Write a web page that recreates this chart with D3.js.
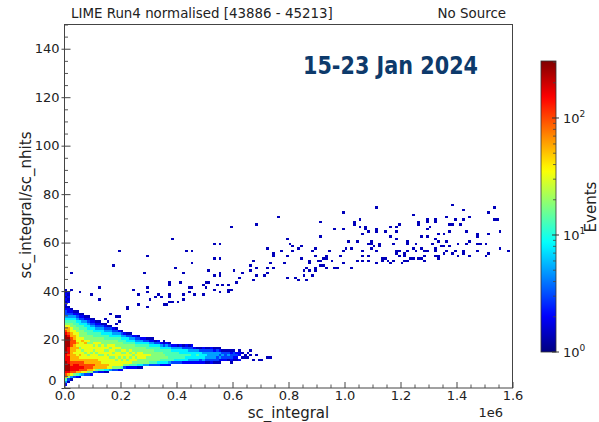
<!DOCTYPE html>
<html><head><meta charset="utf-8">
<script src="https://cdn.jsdelivr.net/npm/d3@7"></script>
<style>
body{margin:0;background:#fff;}
svg{display:block;}
text{font-family:"DejaVu Sans",sans-serif;fill:#222;}
</style>
</head><body>
<svg id="chart" width="599" height="422"></svg>
<script>
// ---------------- data ----------------
const titleLeft = "LIME Run4 normalised [43886 - 45213]";
const titleRight = "No Source";
const dateLabel = "15-23 Jan 2024";
const xLabel = "sc_integral";
const yLabel = "sc_integral/sc_nhits";
const zLabel = "Events";
const xTicks = [0, 0.2, 0.4, 0.6, 0.8, 1.0, 1.2, 1.4, 1.6];   // ×1e6
const yTicks = [0, 20, 40, 60, 80, 100, 120, 140];
const cbTicks = [1, 10, 100];
const cbMax = 307;
const binWidthX = 0.01;   // ×1e6
const binWidthY = 1;
// level code -> bin content (events)
const levelCodes = ".123456789abc";
const levelCounts = [0, 1.4, 2, 3, 5, 8, 13, 18, 32, 55, 100, 160, 250];
// dense core: one entry per x bin (x = index*binWidthX): [first y bin, level codes going up]
const densityCols = [
  [1, "2469abccccbbbccccccccba98765433212121211"],
  [2, "1379bcccbbbabbbccccba99876543221.21212"],
  [3, "148abbaa999999aaaa998877654321"],
  [4, "37abbba9998999aa998877665421"],
  [4, "269bbba998889898888776654321"],
  [4, "159abaa98988788887776655321"],
  [5, "48abaa98887888987776654321"],
  [5, "38aaa99887888987776655421"],
  [5, "379aa99878888787766554321"],
  [5, "279aa9988788877776654321"],
  [6, "389a9988878787766554321"],
  [6, "3799998878888776654321"],
  [6, "2699988788878776654321"],
  [6, "269988878888777655431"],
  [6, "159988888787776654321"],
  [6, "15898887878877665431"],
  [7, "4888878887877655431"],
  [7, "378887878887765432"],
  [7, "378878887877765431"],
  [7, "27888788787766542"],
  [7, "26887887877765431"],
  [8, "378878787766542"],
  [8, "278788877765531"],
  [8, "268878787765431"],
  [8, "26788787776542"],
  [8, "26787877765432"],
  [8, "15778887765431"],
  [8, "1577888776542"],
  [9, "477887776532"],
  [9, "477787766531"],
  [9, "36778776542"],
  [9, "36777776542"],
  [9, "36777766531"],
  [9, "35777766532"],
  [9, "2567776542"],
  [9, "2567766531"],
  [9, "2567666542"],
  [9, "2466666531"],
  [10, "36666542"],
  [10, "35666542"],
  [10, "35666541"],
  [10, "35665542"],
  [10, "25665531"],
  [10, "25565532"],
  [10, "24565431"],
  [10, "24555432"],
  [10, "2455542"],
  [10, "2456541"],
  [10, "2355531"],
  [10, "2455432"],
  [10, "1345431"],
  [10, "1344431"],
  [10, "2344432"],
  [10, "1344421"],
  [10, "1334431"],
  [10, "1243421"],
  [11, "23431"],
  [11, "23331"],
  [11, "13431"],
  [11, "23321"],
  [11, "12331"],
  [11, "1232."],
  [11, "2.221"]
];
// isolated single-entry bins: [sc_integral (×1e6), sc_integral/sc_nhits]
const sparsePoints = [
  [0.764,70.7],[0.599,66.5],[0.684,67.1],[0.385,61.6],[0.199,56.1],[0.178,50.4],[0.294,54.4],[0.539,59.9],[0.556,59.9],
  [0.790,61.4],[0.809,59.9],[0.773,56.1],[0.817,58.1],[0.817,56.5],[0.838,57.6],[0.722,57.0],[0.743,55.4],[0.749,54.0],
  [0.797,54.0],[0.433,56.1],[0.457,56.5],[0.455,51.5],[0.396,49.7],[0.428,47.6],[0.283,47.1],[0.551,53.6],[0.530,53.2],
  [0.679,52.6],[0.666,50.8],[0.735,51.2],[0.742,49.9],[0.727,49.0],[0.780,51.5],[0.680,49.2],[0.681,46.6],[0.660,48.5],
  [0.630,47.8],[0.609,48.5],[0.611,43.7],[0.627,45.5],[0.673,44.1],[0.716,46.4],[0.728,47.0],[0.799,45.7],[0.832,44.9],
  [0.821,45.7],[0.539,46.0],[0.552,47.8],[0.552,46.3],[0.516,48.5],[0.509,43.7],[0.515,43.3],[0.503,41.3],[0.491,42.1],
  [0.534,40.6],[0.549,42.0],[0.561,42.0],[0.583,42.0],[0.583,40.6],[0.599,40.2],[0.555,39.1],[0.580,39.0],[0.370,43.7],
  [0.376,42.7],[0.417,43.1],[0.449,41.7],[0.456,41.4],[0.491,38.6],[0.464,38.1],[0.443,39.8],[0.427,38.1],[0.374,38.8],
  [0.374,37.7],[0.336,38.3],[0.341,37.1],[0.320,37.5],[0.308,36.8],[0.299,41.6],[0.294,39.8],[0.268,38.1],[0.247,40.4],
  [0.126,41.6],[0.096,38.6],[0.051,39.0],[0.022,47.0],[0.023,40.9],
  [1.387,75.1],[1.115,74.5],[1.538,74.0],[1.426,73.1],[0.992,72.0],[1.249,71.2],[1.517,72.0],[1.361,70.4],[1.324,69.8],
  [1.329,68.5],[1.449,70.4],[1.421,69.0],[1.413,67.9],[1.390,69.0],[1.373,67.5],[1.384,67.5],[1.538,69.5],[1.545,69.3],
  [1.263,68.5],[1.263,67.6],[1.058,69.8],[1.030,68.5],[1.035,67.1],[0.918,68.1],[1.051,66.5],[1.071,66.5],[1.079,65.7],
  [1.116,65.9],[1.115,64.0],[1.089,64.9],[1.065,63.9],[0.960,65.4],[0.992,65.4],[1.192,67.1],[1.184,66.1],[1.169,66.2],
  [1.185,64.3],[1.169,62.4],[1.149,64.3],[1.291,69.5],[1.295,68.5],[1.291,65.7],[1.307,66.0],[1.372,64.6],[1.353,63.1],
  [1.338,63.8],[1.366,60.7],[1.278,62.9],[1.291,62.9],[1.479,63.9],[1.472,62.9],[1.515,63.5],[1.553,64.2],[1.439,64.3],
  [1.447,60.7],[1.433,59.9],[1.406,59.5],[1.476,59.1],[1.508,59.1],[1.481,59.1],[1.553,57.4],[1.585,56.1],[1.472,56.1],
  [1.516,55.9],[1.503,54.4],[1.440,54.5],[1.422,56.3],[1.420,55.9],[1.390,56.6],[1.385,55.9],[1.408,54.5],[1.373,58.8],
  [1.347,58.8],[1.339,60.4],[1.326,61.2],[1.319,59.4],[1.320,57.7],[1.324,56.2],[1.331,54.4],[1.320,54.0],[1.334,53.0],
  [1.356,55.1],[1.366,56.7],[1.354,58.7],[1.295,56.6],[1.286,56.3],[1.271,57.0],[1.284,54.2],[1.286,52.6],[1.274,53.0],
  [1.260,53.0],[1.259,59.9],[1.227,60.2],[1.258,56.1],[1.249,53.6],[1.234,53.6],[1.242,57.4],[1.221,59.1],[1.226,60.4],
  [1.213,52.5],[1.224,52.1],[1.206,51.9],[1.213,54.9],[1.222,56.8],[1.213,55.4],[1.198,56.0],[1.196,54.7],[1.189,55.1],
  [1.186,56.7],[1.179,59.4],[1.187,61.2],[1.176,52.5],[1.165,51.8],[1.155,52.5],[1.149,53.2],[1.134,52.0],[1.138,53.0],
  [1.129,59.5],[1.126,58.8],[1.108,58.8],[1.116,56.9],[1.092,60.7],[1.098,59.1],[1.091,57.0],[1.084,59.5],[1.115,51.2],
  [1.089,54.2],[1.081,52.1],[1.061,52.2],[1.044,52.2],[1.029,49.6],[1.063,54.2],[1.064,56.3],[1.041,60.5],[1.014,60.5],
  [1.001,57.0],[1.022,57.0],[0.991,56.3],[0.984,54.4],[0.994,51.5],[0.978,49.2],[0.964,49.2],[0.958,52.6],[0.947,56.1],
  [0.932,54.2],[0.938,53.5],[0.924,53.0],[0.916,52.2],[0.911,50.7],[0.923,50.6],[0.920,50.2],[0.931,49.6],[0.915,62.4],
  [0.917,62.0],[0.898,57.0],[0.888,56.3],[0.890,54.2],[0.901,52.6],[0.879,52.9],[0.874,51.8],[0.865,49.0],[0.858,48.5],
  [0.878,48.3],[0.896,49.0],[0.898,48.1],[0.889,46.8],[0.853,46.0],[0.865,44.9],[0.849,53.6],[0.845,58.0],
  [0.220,33.9],[0.222,32.5],[0.260,34.3],[0.290,33.9],[0.353,34.3],[0.367,34.7],[0.379,35.0],[0.389,35.0],[0.401,35.2],
  [0.424,36.0],[0.163,30.9],[0.180,29.2],[0.198,29.8],[0.193,27.0],[0.180,26.0],[0.127,36.6],
  [0.236,22.3],[0.262,21.5],[0.300,20.5],[0.318,20.9],[0.350,19.8],[0.140,28.0],[0.155,27.2],
  [0.667,15.3],[0.662,13.5],[0.683,13.2],[0.692,11.6],[0.702,11.6],[0.730,12.8],[0.722,12.1],[0.674,11.6],[0.656,12.1],
  [0.645,12.5],[0.633,12.8],[0.615,12.5],[0.621,13.2],[0.603,13.6],[0.597,11.2],[0.591,10.5],[0.637,14.2],[0.648,13.4],
  [0.611,14.6],[0.626,11.4],[0.655,14.5]
];

// ---------------- layout ----------------
const L = 64.5, R = 512.5, T = 24.5, B = 388;
const svg = d3.select("#chart");
const x = d3.scaleLinear().domain([0, 1.6]).range([L, R]);
const y = d3.scaleLinear().domain([0, 150]).range([B, T]);

function jet(t) {
  const c = v => Math.max(0, Math.min(1, v));
  const r = c(1.5 - Math.abs(4 * t - 3));
  const g = c(1.5 - Math.abs(4 * t - 2));
  const b = c(1.5 - Math.abs(4 * t - 1));
  return d3.rgb(r * 255, g * 255, b * 255).formatHex();
}
const zNorm = d3.scaleLog().domain([1, cbMax]).range([0, 1]).clamp(true);
const color = v => jet(zNorm(v));

// build cells
const cellMap = new Map();
densityCols.forEach((col, i) => {
  const [y0, codes] = col;
  for (let k = 0; k < codes.length; k++) {
    const lvl = levelCodes.indexOf(codes[k]);
    if (lvl > 0) cellMap.set(i + "_" + (y0 + k), {i: i, j: y0 + k, v: levelCounts[lvl]});
  }
});
sparsePoints.forEach(p => {
  const i = Math.floor(p[0] / binWidthX + 1e-9), j = Math.floor(p[1] / binWidthY);
  const key = i + "_" + j;
  if (!cellMap.has(key)) cellMap.set(key, {i: i, j: j, v: levelCounts[1]});
});
const cells = Array.from(cellMap.values());

const defs = svg.append("defs");
defs.append("clipPath").attr("id", "plotclip")
  .append("rect").attr("x", L).attr("y", T).attr("width", R - L).attr("height", B - T);

svg.append("g").attr("clip-path", "url(#plotclip)")
  .selectAll("rect").data(cells).join("rect")
  .attr("x", d => x(d.i * binWidthX))
  .attr("width", d => x((d.i + 1) * binWidthX) - x(d.i * binWidthX))
  .attr("y", d => y((d.j + 1) * binWidthY))
  .attr("height", d => y(d.j * binWidthY) - y((d.j + 1) * binWidthY))
  .attr("fill", d => color(d.v))
  .attr("shape-rendering", "crispEdges");

// ---------------- axes ----------------
const xMinor = d3.range(0, 1.6001, 0.05).filter(v => !xTicks.some(t => Math.abs(t - v) < 1e-6));
const yMinor = d3.range(0, 150.001, 5).filter(v => !yTicks.includes(v));

const gx = svg.append("g").attr("transform", `translate(0,${B})`)
  .call(d3.axisBottom(x).tickValues(xTicks).tickSize(-6).tickPadding(3).tickFormat(d3.format(".1f")));
gx.select(".domain").remove();
gx.selectAll("text").attr("font-size", 13).attr("font-family", "DejaVu Sans").style("fill", "#222");
gx.selectAll("line").attr("stroke", "#444");
const gxm = svg.append("g").attr("transform", `translate(0,${B})`)
  .call(d3.axisBottom(x).tickValues(xMinor).tickSize(-3.5).tickFormat(""));
gxm.select(".domain").remove();
gxm.selectAll("line").attr("stroke", "#555");

const gy = svg.append("g").attr("transform", `translate(${L},0)`)
  .call(d3.axisLeft(y).tickValues(yTicks).tickSizeInner(-6).tickSizeOuter(0).tickPadding(5));
gy.select(".domain").remove();
gy.selectAll("text").attr("font-size", 13).attr("font-family", "DejaVu Sans").style("fill", "#222");
gy.selectAll(".tick text").filter(d => d === 0).attr("x", -8).attr("dy", "-0.25em");
gy.selectAll("line").attr("stroke", "#444");
gy.selectAll(".tick").append("line").attr("x1", -3).attr("x2", 0).attr("stroke", "#444");
const gym = svg.append("g").attr("transform", `translate(${L},0)`)
  .call(d3.axisLeft(y).tickValues(yMinor).tickSize(-3.5).tickFormat(""));
gym.select(".domain").remove();
gym.selectAll("line").attr("stroke", "#555");

svg.append("rect").attr("x", L).attr("y", T).attr("width", R - L).attr("height", B - T)
  .attr("fill", "none").attr("stroke", "#444").attr("stroke-width", 1);

// labels
svg.append("text").attr("x", 71).attr("y", 18).attr("font-size", 13.4).text(titleLeft);
svg.append("text").attr("x", 506).attr("y", 18).attr("font-size", 13.4).attr("text-anchor", "end").text(titleRight);
svg.append("text").attr("x", 288.5).attr("y", 418).attr("font-size", 15).attr("text-anchor", "middle").text(xLabel);
svg.append("text").attr("x", 503).attr("y", 417).attr("font-size", 13).attr("text-anchor", "end").text("1e6");
svg.append("text").attr("transform", "translate(31,205) rotate(-90)").attr("font-size", 15)
  .attr("text-anchor", "middle").text(yLabel);
svg.append("text").attr("x", 303).attr("y", 74).attr("font-size", 24)
  .attr("font-family", "Open Sans").attr("font-weight", 700)
  .attr("textLength", 175).attr("lengthAdjust", "spacingAndGlyphs")
  .style("fill", "#0d3a6b").text(dateLabel);

// ---------------- colorbar ----------------
const cbX = 541, cbW = 15, cbTop = 61, cbBot = 352;
const cbScale = d3.scaleLog().domain([1, cbMax]).range([cbBot, cbTop]);
const grad = defs.append("linearGradient").attr("id", "jetgrad")
  .attr("x1", 0).attr("y1", 1).attr("x2", 0).attr("y2", 0);
d3.range(0, 1.0001, 0.02).forEach(t => grad.append("stop").attr("offset", t).attr("stop-color", jet(t)));
svg.append("rect").attr("x", cbX).attr("y", cbTop).attr("width", cbW).attr("height", cbBot - cbTop)
  .attr("fill", "url(#jetgrad)").attr("stroke", "#333").attr("stroke-width", 0.8);
const cbMinor = [];
[1, 10, 100].forEach(dec => d3.range(2, 10).forEach(m => { if (dec * m <= cbMax) cbMinor.push(dec * m); }));
svg.append("g").selectAll("line").data(cbMinor).join("line")
  .attr("x1", cbX + cbW - 3).attr("x2", cbX + cbW)
  .attr("y1", d => cbScale(d)).attr("y2", d => cbScale(d)).attr("stroke", "#444").attr("stroke-width", 0.8);
const cbt = svg.append("g").selectAll("g").data(cbTicks).join("g")
  .attr("transform", d => `translate(${cbX + cbW},${cbScale(d)})`);
cbt.append("line").attr("x1", -4).attr("x2", 3).attr("stroke", "#333");
const lab = cbt.append("text").attr("x", 7).attr("y", 5).attr("font-size", 13);
lab.append("tspan").text("10");
lab.append("tspan").attr("font-size", 9).attr("dy", -6).text(d => String(Math.round(Math.log10(d))));
svg.append("text").attr("transform", "translate(596,207) rotate(-90)").attr("font-size", 15)
  .attr("text-anchor", "middle").text(zLabel);
</script>
</body></html>
